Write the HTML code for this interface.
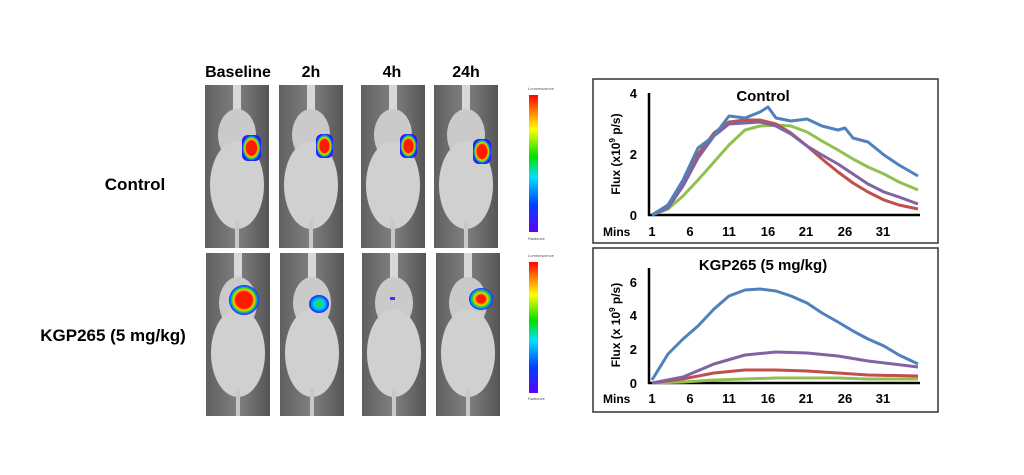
<!DOCTYPE html>
<html><head><style>
html,body{margin:0;padding:0;background:#fff;}
svg{display:block;}
text{font-family:"Liberation Sans",Arial,sans-serif;}
</style></head><body>
<svg width="1024" height="475" viewBox="0 0 1024 475" xmlns="http://www.w3.org/2000/svg">
<defs>
<linearGradient id="bg" x1="0" x2="1"><stop offset="0" stop-color="#606060"/><stop offset="0.5" stop-color="#808080"/><stop offset="1" stop-color="#555"/></linearGradient>
<radialGradient id="heat"><stop offset="0.55" stop-color="#ff1a00"/><stop offset="0.7" stop-color="#ffcc00"/><stop offset="0.8" stop-color="#22dd22"/><stop offset="0.9" stop-color="#0080ff"/><stop offset="1" stop-color="#3010ff"/></radialGradient>
<radialGradient id="heat2"><stop offset="0.2" stop-color="#22dd55"/><stop offset="0.55" stop-color="#00ccee"/><stop offset="0.85" stop-color="#0060ff"/><stop offset="1" stop-color="#4010ff"/></radialGradient>
<radialGradient id="heat3"><stop offset="0.35" stop-color="#ff1a00"/><stop offset="0.55" stop-color="#ffcc00"/><stop offset="0.72" stop-color="#22dd22"/><stop offset="0.88" stop-color="#0080ff"/><stop offset="1" stop-color="#3010ff"/></radialGradient>
<linearGradient id="cb" x1="0" y1="1" x2="0" y2="0"><stop offset="0" stop-color="#6000ff"/><stop offset="0.2" stop-color="#0040ff"/><stop offset="0.4" stop-color="#00e0ff"/><stop offset="0.55" stop-color="#00e000"/><stop offset="0.75" stop-color="#ffff00"/><stop offset="0.88" stop-color="#ff8000"/><stop offset="1" stop-color="#ff0000"/></linearGradient>
<g id="mouse">
<rect x="0" y="0" width="64" height="163" fill="url(#bg)"/>
<rect x="28" y="0" width="8" height="30" fill="#d8d8d8"/>
<ellipse cx="32" cy="50" rx="19" ry="26" fill="#cacaca"/>
<ellipse cx="32" cy="100" rx="27" ry="44" fill="#d0d0d0"/>
<rect x="30" y="135" width="4" height="28" fill="#c8c8c8"/>
</g>
</defs>
<text x="238" y="77" font-size="16" font-weight="bold" text-anchor="middle">Baseline</text>
<text x="311" y="77" font-size="16" font-weight="bold" text-anchor="middle">2h</text>
<text x="392" y="77" font-size="16" font-weight="bold" text-anchor="middle">4h</text>
<text x="466" y="77" font-size="16" font-weight="bold" text-anchor="middle">24h</text>
<text x="135" y="190" font-size="17" font-weight="bold" text-anchor="middle">Control</text>
<text x="113" y="341" font-size="17" font-weight="bold" text-anchor="middle">KGP265 (5 mg/kg)</text>

<use href="#mouse" x="205" y="85"/>
<use href="#mouse" x="279" y="85"/>
<use href="#mouse" x="361" y="85"/>
<use href="#mouse" x="434" y="85"/>
<use href="#mouse" x="206" y="253"/>
<use href="#mouse" x="280" y="253"/>
<use href="#mouse" x="362" y="253"/>
<use href="#mouse" x="436" y="253"/>

<rect x="242" y="135" width="19" height="26" rx="6" fill="url(#heat)"/>
<rect x="316" y="134" width="17" height="24" rx="6" fill="url(#heat)"/>
<rect x="400" y="134" width="17" height="24" rx="6" fill="url(#heat)"/>
<rect x="473" y="139" width="18" height="25" rx="6" fill="url(#heat)"/>
<ellipse cx="244" cy="300" rx="15" ry="15" fill="url(#heat)"/>
<ellipse cx="319" cy="304" rx="10" ry="9" fill="url(#heat2)"/>
<rect x="390" y="297" width="5" height="3" fill="#6020ff"/>
<ellipse cx="481" cy="299" rx="12" ry="11" fill="url(#heat3)"/>

<rect x="529" y="95" width="9" height="137" fill="url(#cb)"/>
<rect x="529" y="262" width="9" height="131" fill="url(#cb)"/>
<g font-size="4" fill="#555">
<text x="528" y="90">Luminescence</text><text x="528" y="240">Radiance</text>
<text x="528" y="257">Luminescence</text><text x="528" y="400">Radiance</text>
</g>

<rect x="593" y="79" width="345" height="164" fill="none" stroke="#333" stroke-width="1.5"/>
<rect x="593" y="248" width="345" height="164" fill="none" stroke="#333" stroke-width="1.5"/>
<g stroke="#000" stroke-width="2.5" fill="none">
<path d="M649 93 V215 H920"/><path d="M649 268 V383 H920"/>
</g>
<g font-size="13" font-weight="bold">
<text x="763" y="101" font-size="15" text-anchor="middle">Control</text>
<text x="763" y="270" font-size="15" text-anchor="middle">KGP265 (5 mg/kg)</text>
<g text-anchor="end"><text x="637" y="98">4</text><text x="637" y="159">2</text><text x="637" y="220">0</text>
<text x="637" y="287">6</text><text x="637" y="320">4</text><text x="637" y="354">2</text><text x="637" y="388">0</text></g>
<text x="603" y="236" font-size="12">Mins</text><text x="603" y="403" font-size="12">Mins</text>
<g text-anchor="middle">
<text x="652" y="236">1</text><text x="690" y="236">6</text><text x="729" y="236">11</text><text x="768" y="236">16</text><text x="806" y="236">21</text><text x="845" y="236">26</text><text x="883" y="236">31</text>
<text x="652" y="403">1</text><text x="690" y="403">6</text><text x="729" y="403">11</text><text x="768" y="403">16</text><text x="806" y="403">21</text><text x="845" y="403">26</text><text x="883" y="403">31</text>
</g>
<text transform="translate(620,154) rotate(-90)" text-anchor="middle" font-size="12">Flux (x10<tspan font-size="8" dy="-5">9</tspan><tspan dy="5"> p/s)</tspan></text>
<text transform="translate(620,325) rotate(-90)" text-anchor="middle" font-size="12">Flux (x 10<tspan font-size="8" dy="-5">9</tspan><tspan dy="5"> p/s)</tspan></text>
</g>
<g fill="none" stroke-width="3" stroke-linejoin="round">
<polyline stroke="#92c050" points="652,215 668,209 683,196 698,180 714,162 729,145 745,130 760,126 776,125 791,126 807,132 822,141 838,150 853,159 868,167 884,174 899,182 918,190"/>
<polyline stroke="#c0504d" points="652,215 668,205 683,182 698,154 714,133 729,122 745,120 760,120 776,124 791,133 807,146 822,159 838,172 853,183 868,192 884,200 899,205 918,209"/>
<polyline stroke="#8064a2" points="652,215 668,208 683,186 698,158 714,136 729,124 745,123 760,122 776,126 791,134 807,146 822,155 838,164 853,174 868,184 884,192 899,197 918,204"/>
<polyline stroke="#4f81bd" points="652,215 668,205 683,180 698,148 714,136 729,116 745,118 760,112 768,107 776,118 791,121 807,119 822,126 838,130 845,128 853,138 868,142 884,155 899,165 918,176"/>
<polyline stroke="#92c050" points="652,383 683,382 714,380 745,379 776,378 807,378 838,378 868,379 918,379"/>
<polyline stroke="#c0504d" points="652,383 683,379 714,373 745,370 776,370 807,371 838,373 868,375 918,376"/>
<polyline stroke="#8064a2" points="652,383 683,377 714,364 745,355 776,352 807,353 838,356 868,361 918,367"/>
<polyline stroke="#4f81bd" points="652,380 668,354 683,339 698,326 714,309 729,296 745,290 760,289 776,291 791,296 807,303 822,313 838,322 853,331 868,339 884,346 899,355 918,364"/>
</g>
</svg>
</body></html>
